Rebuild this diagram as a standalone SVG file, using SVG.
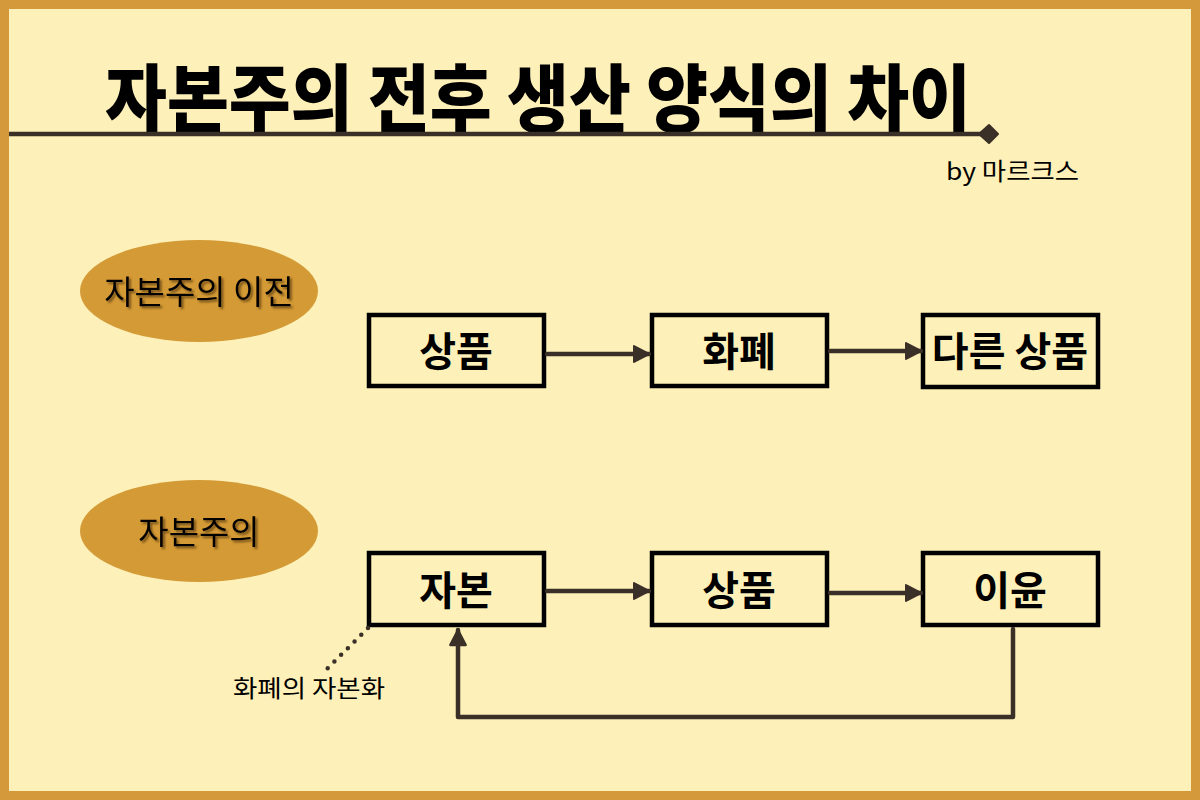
<svg xmlns="http://www.w3.org/2000/svg" width="1200" height="800" viewBox="0 0 1200 800">
<defs>
<style>
.box{fill:none;stroke:#000;stroke-width:4.5}
.bt{font-family:"Noto Sans CJK KR","Noto Sans",sans-serif;font-weight:700;font-size:40px;fill:#000;text-anchor:middle}
.et{font-family:"Noto Sans CJK KR","Noto Sans",sans-serif;font-weight:400;font-size:33px;fill:#000;text-anchor:middle;filter:url(#sh)}
.ell{fill:#D49A35}
.con{fill:none;stroke:#3A3027;stroke-width:4.5;stroke-linecap:round;stroke-linejoin:round}
.sm{font-family:"Noto Sans CJK KR","Noto Sans",sans-serif;font-weight:400;font-size:24px;fill:#000}
</style>
<marker id="ah" markerWidth="4" markerHeight="4" viewBox="0 0 12 12" refX="11" refY="6" orient="auto" markerUnits="strokeWidth">
<path d="M1,0.8 L11,6 L1,11.2 Z" fill="#3A3027" stroke="#3A3027" stroke-width="1.5" stroke-linejoin="round"/>
</marker>
<filter id="sh" x="-10%" y="-20%" width="130%" height="150%">
<feDropShadow dx="2" dy="2" stdDeviation="1" flood-color="#6b4a12" flood-opacity="0.9"/>
</filter>
</defs>
<rect x="0" y="0" width="1200" height="800" fill="#D4993A"/>
<rect x="9" y="9" width="1182" height="782" fill="#FDF0B8"/>

<g id="title">
<text x="538" y="126" font-family="'Noto Sans CJK KR','Noto Sans',sans-serif" font-weight="900" font-size="74" text-anchor="middle" textLength="866" lengthAdjust="spacingAndGlyphs" fill="#000">자본주의 전후 생산 양식의 차이</text>
<line x1="9" y1="134" x2="982" y2="134" stroke="#3A3027" stroke-width="4.5"/>
<polygon points="979,134 989,125 998,134 989,143" fill="#3A3027" stroke="#3A3027" stroke-width="2" stroke-linejoin="round"/>
<text x="946" y="180" class="sm" textLength="133" lengthAdjust="spacingAndGlyphs">by 마르크스</text>
</g>

<g id="label-before">
<ellipse class="ell" cx="199" cy="291" rx="119" ry="51"/>
<text class="et" x="199" y="304">자본주의 이전</text>
</g>
<g id="label-capitalism">
<ellipse class="ell" cx="199" cy="531" rx="119" ry="51"/>
<text class="et" x="199" y="544">자본주의</text>
</g>

<g id="n-commodity1">
<rect class="box" x="369" y="315" width="175" height="71"/>
<text class="bt" x="456" y="366">상품</text>
</g>
<g id="n-money">
<rect class="box" x="652" y="315" width="175" height="71"/>
<text class="bt" x="739" y="366">화폐</text>
</g>
<g id="n-other">
<rect class="box" x="923" y="315" width="175" height="72"/>
<text class="bt" x="1010" y="366">다른 상품</text>
</g>

<g id="n-capital">
<rect class="box" x="369" y="553" width="175" height="72"/>
<text class="bt" x="456" y="605">자본</text>
</g>
<g id="n-commodity2">
<rect class="box" x="652" y="553" width="175" height="72"/>
<text class="bt" x="739" y="605">상품</text>
</g>
<g id="n-profit">
<rect class="box" x="923" y="553" width="175" height="72"/>
<text class="bt" x="1010" y="605">이윤</text>
</g>

<g id="connectors">
<line class="con" x1="547" y1="354" x2="649" y2="354" marker-end="url(#ah)"/>
<line class="con" x1="830" y1="351" x2="921" y2="351" marker-end="url(#ah)"/>
<line class="con" x1="547" y1="591" x2="649" y2="591" marker-end="url(#ah)"/>
<line class="con" x1="830" y1="593" x2="921" y2="593" marker-end="url(#ah)"/>
<polyline class="con" points="1013,629 1013,717 458,717 458,630" marker-end="url(#ah)"/>
<line x1="368" y1="628" x2="324" y2="672" stroke="#3A3027" stroke-width="4.5" stroke-linecap="round" stroke-dasharray="0 9.5"/>
</g>

<g id="note">
<text class="sm" x="233" y="697" textLength="152" lengthAdjust="spacingAndGlyphs">화폐의 자본화</text>
</g>
</svg>
